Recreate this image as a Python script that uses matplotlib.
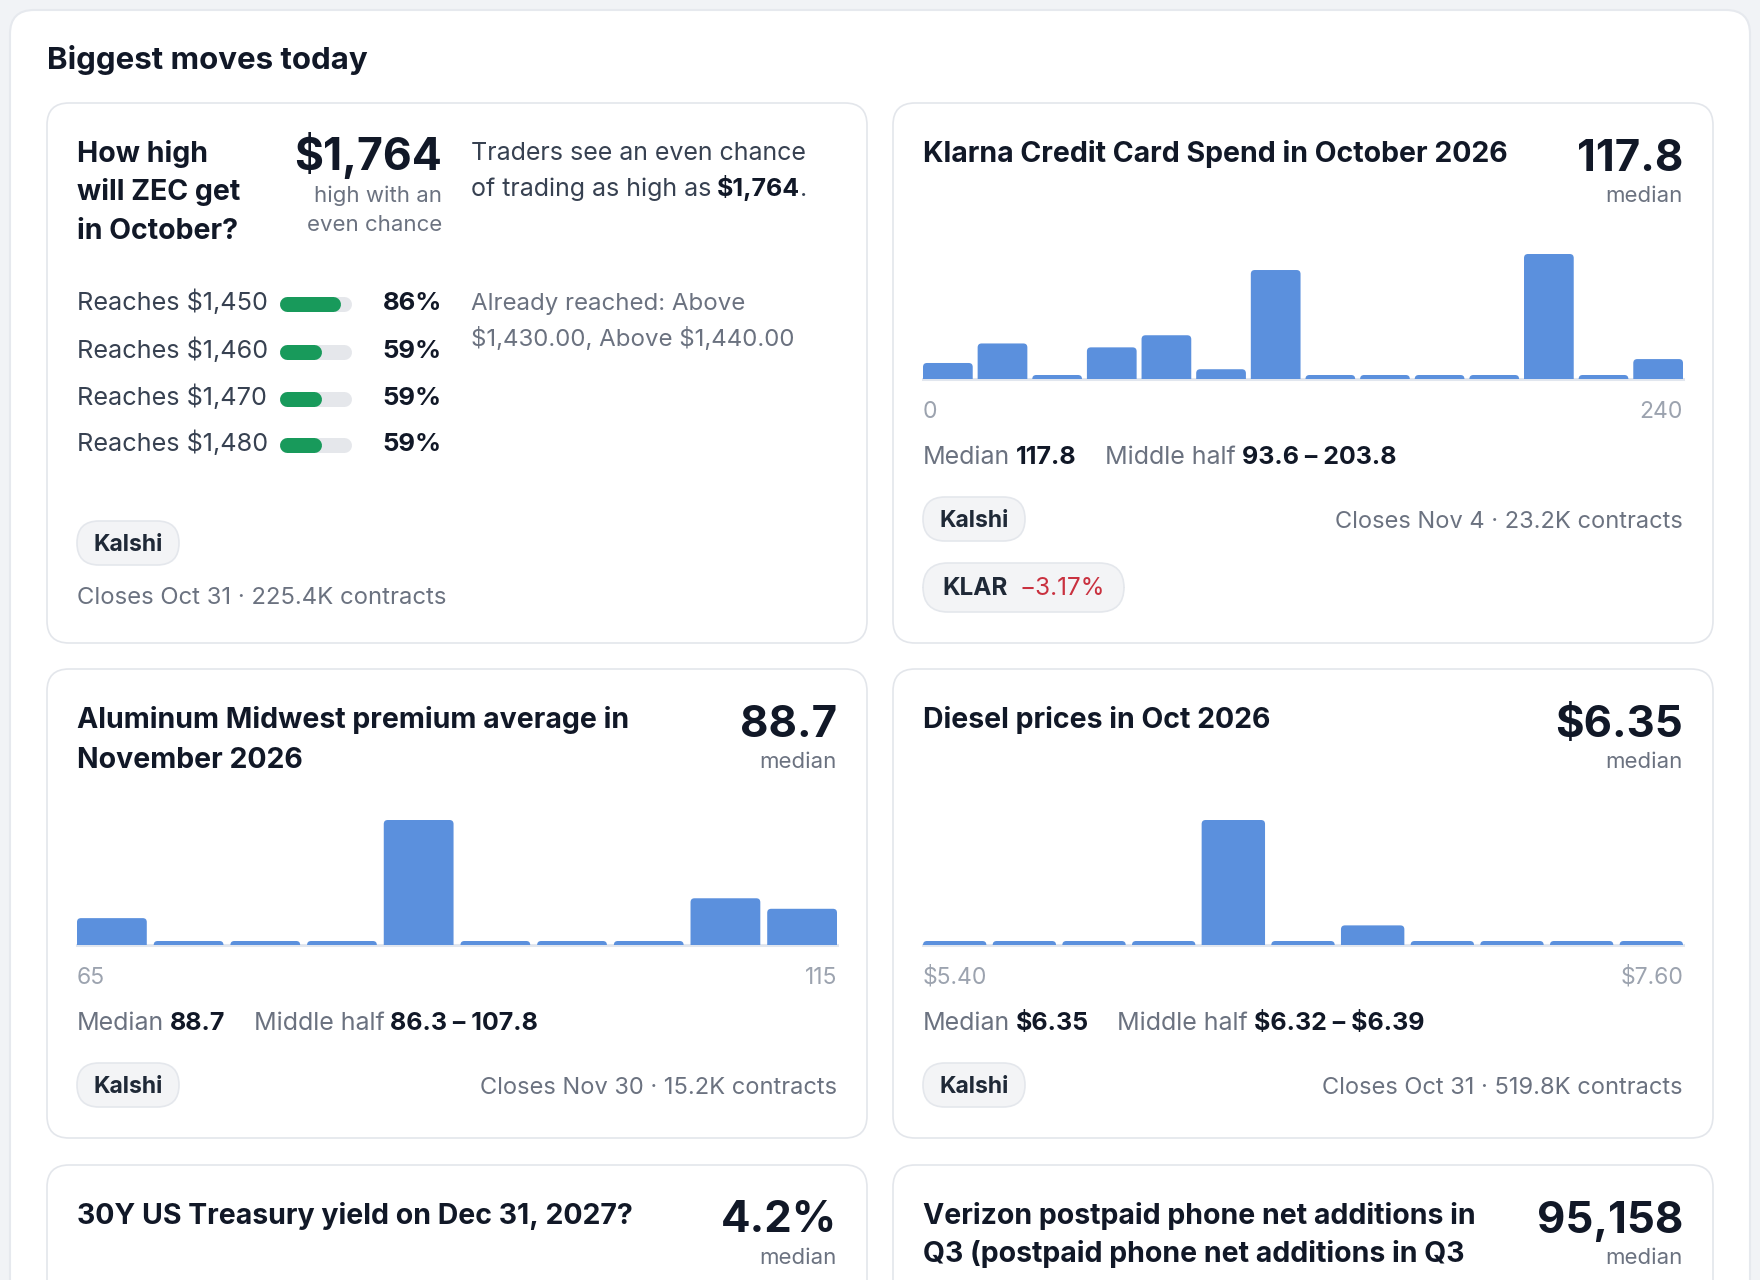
import matplotlib
matplotlib.use("Agg")
import matplotlib.pyplot as plt
from matplotlib.patches import FancyBboxPatch

plt.rcParams["font.family"] = ["Inter", "DejaVu Sans"]

W, H = 1760, 1280

# ---- data -------------------------------------------------------------
zec_levels = ["$1,450", "$1,460", "$1,470", "$1,480"]
zec_probs = [86, 59, 59, 59]

klarna_probs = [4.1, 9.1, 0, 8.1, 11.2, 2.5, 27.9, 0, 0, 0, 0, 32.0, 0, 5.1]
aluminum_probs = [11.5, 0, 0, 0, 53.5, 0, 0, 0, 20.0, 15.5]
diesel_probs = [0, 0, 0, 0, 86.0, 0, 13.5, 0, 0, 0, 0]

hist_titles = [
    ["Klarna Credit Card Spend in October 2026"],
    ["Aluminum Midwest premium average in", "November 2026"],
    ["Diesel prices in Oct 2026"],
]
hist_medians = ["117.8", "88.7", "$6.35"]
hist_ranges = [("0", "240"), ("65", "115"), ("$5.40", "$7.60")]
hist_middle = ["93.6 \u2013 203.8", "86.3 \u2013 107.8", "$6.32 \u2013 $6.39"]
hist_closes = ["Closes Nov 4 \u00b7 23.2K contracts",
               "Closes Nov 30 \u00b7 15.2K contracts",
               "Closes Oct 31 \u00b7 519.8K contracts"]

bottom_titles = [["30Y US Treasury yield on Dec 31, 2027?"],
                 ["Verizon postpaid phone net additions in",
                  "Q3 (postpaid phone net additions in Q3"]]
bottom_medians = ["4.2%", "95,158"]

# ---- colours ----------------------------------------------------------
BG = "#f1f3f6"
BORDER = "#e3e6eb"
DARK = "#111827"
TEXT = "#374151"
MUTED = "#6b7280"
LIGHT = "#9ca3af"
PILL = "#f3f4f6"
GREEN = "#189a5b"
TRACK = "#e5e7eb"
RED = "#c9313f"
BAR = "#5b90dd"
BASE = "#e1e6ee"

fig = plt.figure(figsize=(W / 100, H / 100), dpi=100, facecolor=BG)
ax = fig.add_axes([0, 0, 1, 1])
ax.set_xlim(0, W)
ax.set_ylim(H, 0)
ax.axis("off")
renderer = fig.canvas.get_renderer()


def box(x0, y0, x1, y1, r, fc, ec, lw=1.2):
    ax.add_patch(FancyBboxPatch((x0, y0), x1 - x0, y1 - y0,
                                boxstyle=f"round,pad=0,rounding_size={r}",
                                fc=fc, ec=ec, lw=lw))


def txt(x, y, s, size, color=DARK, weight="normal", ha="left"):
    return ax.text(x, y, s, fontsize=size, color=color, fontweight=weight,
                   ha=ha, va="baseline", parse_math=False)


def rich(x, y, parts, size):
    # parts: (text, weight, color, gap after)
    for s, weight, color, gap in parts:
        t = txt(x, y, s, size, color, weight)
        x += t.get_window_extent(renderer).width + gap
    return x


def px_axes(x0, top, w, h):
    a = fig.add_axes([x0 / W, 1 - (top + h) / H, w / W, h / H])
    a.patch.set_alpha(0)
    a.axis("off")
    return a


def pill(x0, top, label):
    box(x0, top, x0 + 102, top + 44, 22, PILL, "#e4e7ec")
    txt(x0 + 51, top + 30, label, 16.5, "#1f2937", "bold", ha="center")


def round_tops(a, bars, w_px, h_px, r_px=4):
    # swap the bar rectangles for ones with rounded top corners
    x0, x1 = a.get_xlim()
    y0, y1 = a.get_ylim()
    rx = r_px * (x1 - x0) / w_px
    ry = r_px * (y1 - y0) / h_px
    for rect in bars:
        a.add_patch(FancyBboxPatch(
            (rect.get_x(), -ry), rect.get_width(), rect.get_height() + ry,
            boxstyle=f"round,pad=0,rounding_size={rx}",
            mutation_aspect=ry / rx, fc=BAR, ec="none", zorder=2))
        rect.remove()


# outer panel
box(10, 10, 1750, 1400, 24, "white", "#e6e9ee", 1.5)
txt(47, 69, "Biggest moves today", 22.5, DARK, "bold")

# ---- card 1: ZEC ------------------------------------------------------
box(47, 103, 867, 643, 22, "white", BORDER)
for i, line in enumerate(["How high", "will ZEC get", "in October?"]):
    txt(77, 162 + i * 38.5, line, 20.5, DARK, "bold")
txt(442, 170, "$1,764", 32, DARK, "bold", ha="right")
txt(442, 202, "high with an", 16, MUTED, ha="right")
txt(442, 231, "even chance", 16, MUTED, ha="right")
txt(471, 160, "Traders see an even chance", 18, TEXT)
rich(471, 196, [("of trading as high as", "normal", TEXT, 6),
                ("$1,764", "bold", DARK, 0),
                (".", "normal", TEXT, 0)], 18)

row_base = [310, 358, 405, 451]
for lvl, p, yb in zip(zec_levels, zec_probs, row_base):
    txt(77, yb, f"Reaches {lvl}", 18.2, TEXT)
    txt(442, yb, f"{p}%", 18.5, DARK, "bold", ha="right")

# progress bars: track spans 279-351 px, fill is p % of it
pb = px_axes(279, 293, 72, 160)
pb.set_xlim(0, 100)
pb.set_ylim(160, 0)
cap = 7.5 / 72 * 100
for p, yb in zip(zec_probs, row_base):
    yc = yb - 6.5 - 293
    pb.plot([cap, 100 - cap], [yc, yc], color=TRACK, lw=15 * 0.72,
            solid_capstyle="round", clip_on=False)
    pb.plot([cap, p - cap], [yc, yc], color=GREEN, lw=15 * 0.72,
            solid_capstyle="round", clip_on=False)

txt(471, 310, "Already reached: Above", 17.3, MUTED)
txt(471, 346, "$1,430.00, Above $1,440.00", 17.3, MUTED)
pill(77, 521, "Kalshi")
txt(77, 604, "Closes Oct 31 \u00b7 225.4K contracts", 17.2, MUTED)

# ---- histogram cards --------------------------------------------------
cards = [(893, 103), (47, 669), (893, 669)]
series = [klarna_probs, aluminum_probs, diesel_probs]
for k, ((cx, cy), probs) in enumerate(zip(cards, series)):
    box(cx, cy, cx + 820, cy + 540 if k == 0 else cy + 469, 22, "white", BORDER)
    left, right = cx + 30, cx + 790
    for i, line in enumerate(hist_titles[k]):
        txt(left, cy + 59 + i * 39.5, line, 20.5, DARK, "bold")
    txt(right, cy + 68, hist_medians[k], 31.5, DARK, "bold", ha="right")
    txt(right, cy + 99, "median", 16, MUTED, ha="right")

    h = px_axes(left, cy + 151, right - left, 125)
    n = len(probs)
    top = max(probs)
    shown = [max(v, top * 0.032) for v in probs]
    h.set_xlim(-0.45, n - 1 + 0.45)
    h.set_ylim(0, top)
    bars = h.bar(range(n), shown, width=0.91, color=BAR, zorder=2)
    h.set_xlim(-0.455, n - 1 + 0.455)
    h.set_ylim(0, top)
    round_tops(h, bars, right - left, 125)
    h.axhline(0, color=BASE, lw=2.2, zorder=1, clip_on=False)

    lo, hi = hist_ranges[k]
    txt(left, cy + 314.5, lo, 16.5, LIGHT)
    txt(right, cy + 314.5, hi, 16.5, LIGHT, ha="right")

    rich(left, cy + 361, [("Median", "normal", MUTED, 6),
                          (hist_medians[k], "bold", DARK, 28),
                          ("Middle half", "normal", MUTED, 6),
                          (hist_middle[k], "bold", DARK, 0)], 18)
    pill(left, cy + 394, "Kalshi")
    txt(right, cy + 425, hist_closes[k], 17, MUTED, ha="right")

# KLAR stock pill on the Klarna card
box(923, 563, 1124, 612, 25, PILL, "#e4e7ec")
rich(942, 595, [("KLAR", "bold", "#1f2937", 12),
                ("\u22123.17%", "normal", RED, 0)], 17.5)

# ---- bottom (cut off) cards ------------------------------------------
for (cx, cy), lines, med in zip([(47, 1165), (893, 1165)], bottom_titles, bottom_medians):
    box(cx, cy, cx + 820, cy + 300, 22, "white", BORDER)
    for i, line in enumerate(lines):
        txt(cx + 30, cy + 58.5 + i * 38.5, line, 20.5, DARK, "bold")
    txt(cx + 790, cy + 67.5, med, 31.5, DARK, "bold", ha="right")
    txt(cx + 790, cy + 99, "median", 16, MUTED, ha="right")

fig.savefig("out.png", dpi=100, facecolor=BG)
